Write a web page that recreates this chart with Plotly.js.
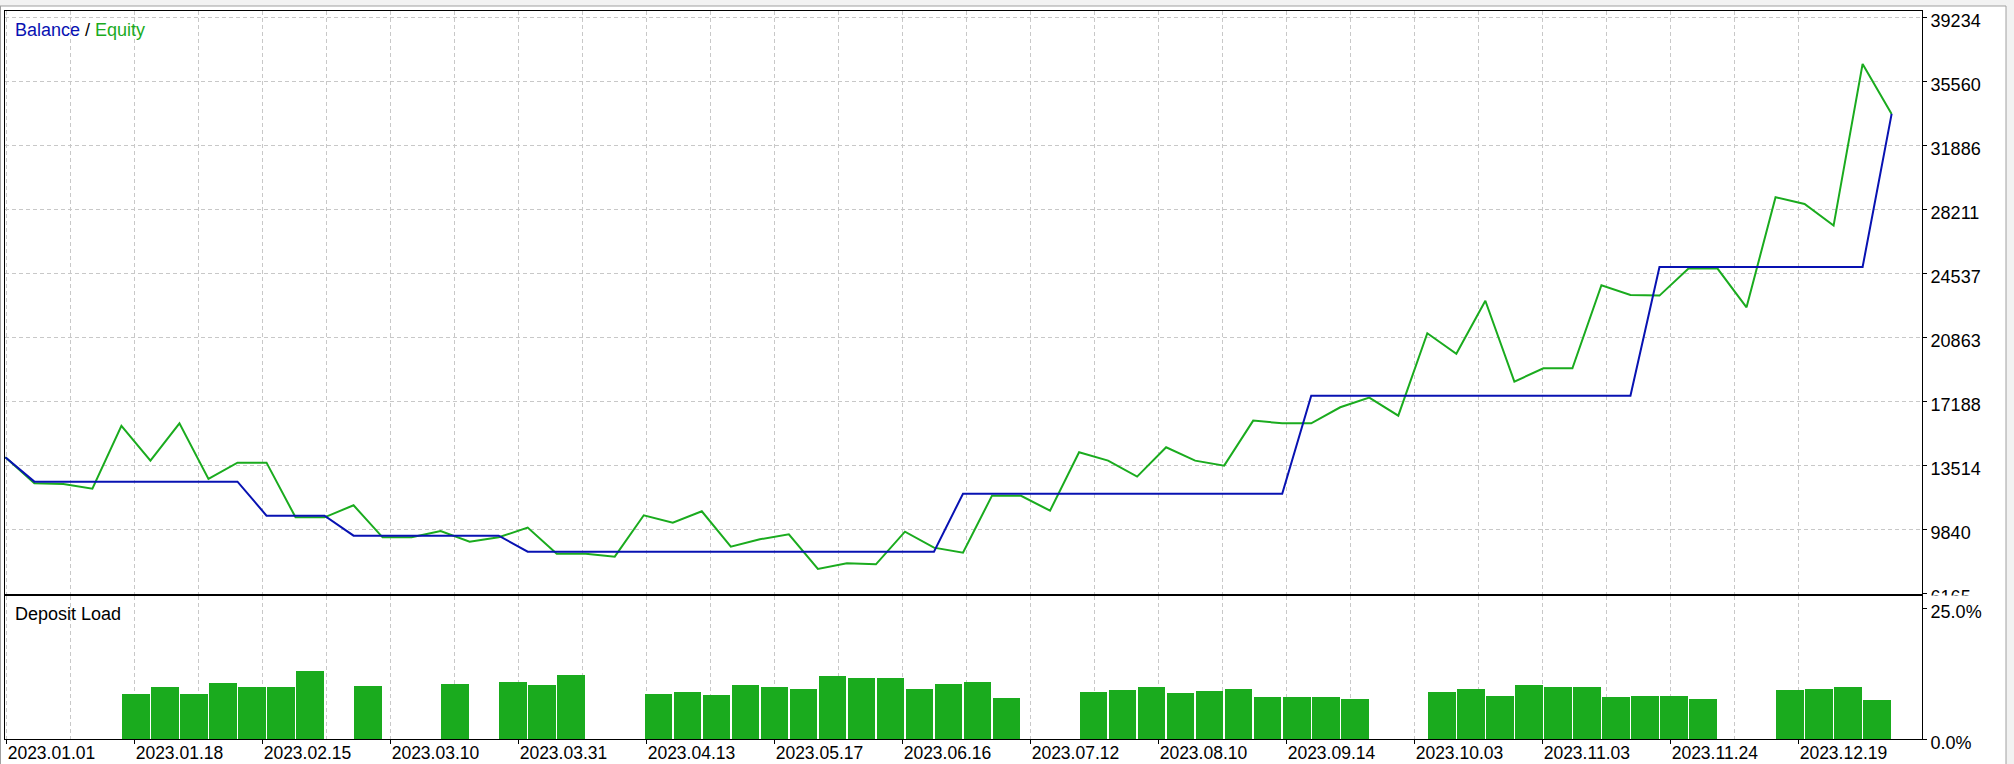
<!DOCTYPE html>
<html>
<head>
<meta charset="utf-8">
<script src="https://cdn.plot.ly/plotly-3.0.1.min.js"></script>
<style>html,body{margin:0;padding:0;background:#fff;}#chart{width:2014px;height:764px;}</style>
</head>
<body>
<div id="chart"></div>
<script>
// ---- data ----
const balance = [13973,
  12576,12576,12576,12576,12576,12576,12576,12576,
  10624,10624,10624,
  9475,9475,9475,9475,9475,9475,
  8557,8557,8557,8557,8557,8557,8557,8557,8557,8557,8557,8557,8557,8557,8557,
  11880,11880,11880,11880,11880,11880,11880,11880,11880,11880,11880,11880,
  17513,17513,17513,17513,17513,17513,17513,17513,17513,17513,17513,17513,
  24901,24901,24901,24901,24901,24901,24901,24901,
  33687];
const equity = [13973,12480,12440,12174,15773,13782,15926,12729,13667,13667,
  10528,10528,11217,9380,9380,9743,9131,9380,9935,8442,
  8440,8270,10643,10222,10873,8844,9265,9552,7561,7887,
  7830,9705,8787,8499,11772,11760,10908,14260,13782,12863,
  14548,13782,13495,16079,15926,15926,16844,17399,16366,21093,
  19920,22960,18318,19083,19083,23849,23294,23256,24806,24806,
  22586,28902,28519,27275,36558,33687];
const depositLoad = [null,null,null,null,8.65,9.98,8.65,10.74,9.98,9.98,
  13.03,null,10.17,null,null,10.55,null,10.94,10.36,12.27,
  null,null,8.65,9.03,8.45,10.36,9.98,9.60,12.08,11.70,
  11.70,9.60,10.55,10.94,7.88,null,null,9.03,9.41,9.98,
  8.84,9.22,9.60,8.07,8.07,8.07,7.69,null,null,9.03,
  9.60,8.26,10.36,9.98,9.98,8.07,8.26,8.26,7.69,null,
  null,9.41,9.60,9.98,7.50];
const dateLabels = ['2023.01.01','2023.01.18','2023.02.15','2023.03.10','2023.03.31',
  '2023.04.13','2023.05.17','2023.06.16','2023.07.12','2023.08.10','2023.09.14',
  '2023.10.03','2023.11.03','2023.11.24','2023.12.19'];
const priceTicks = [6165,9840,13514,17188,20863,24537,28211,31886,35560,39234];
const loadTicks = [0,25];
const loadTickText = ['0.0%','25.0%'];

// ---- geometry (pixels) ----
const W = 2014, H = 764;
const X0PX = 5.33, STEP = 29.02;          // pixel position of deal 0 and per-deal step
const LEFT = 5, RIGHT = 1922;
const TOP1 = 11, BOT1 = 594, TOP2 = 596, BOT2 = 739.3;
const toIdx = px => (px - X0PX) / STEP;
const fx = px => px / W, fy = py => 1 - py / H;

const GREEN = '#1aab1e', BLUE = '#0812b2', GRID = '#c8c8c8';
const FONT = {family: 'Liberation Sans, Arial, sans-serif', size: 18, color: '#000'};
const DATEFONT = {family: 'Liberation Sans, Arial, sans-serif', size: 17.5, color: '#000'};

// grid positions: every 64px starting at 6.67
const gridAll = [], gridMajor = [], gridMinor = [];
for (let k = 0; k <= 28; k++) {
  const v = toIdx(6.67 + 64 * k);
  gridAll.push(v);
  if (k % 2 === 0) gridMajor.push(v); else gridMinor.push(v);
}

const idx = equity.map((_, i) => i);
const slotX = depositLoad.map((_, i) => i + 0.5);

// price axis range from tick pixel spacing (64px per tick step)
const tickStep = (priceTicks[priceTicks.length - 1] - priceTicks[0]) / (priceTicks.length - 1);
const perPx = tickStep / 64;
const yr0 = priceTicks[0] - (BOT1 - 593.3) * perPx;
const yr1 = priceTicks[priceTicks.length - 1] + (17.3 - TOP1) * perPx;
const lr1 = 25 * (BOT2 - TOP2) / (BOT2 - 608.3);

const traces = [
  {x: idx, y: equity, type: 'scatter', mode: 'lines', line: {color: GREEN, width: 2}, xaxis: 'x', yaxis: 'y', hoverinfo: 'skip'},
  {x: idx, y: balance, type: 'scatter', mode: 'lines', line: {color: BLUE, width: 2}, xaxis: 'x', yaxis: 'y', hoverinfo: 'skip'},
  {x: slotX, y: depositLoad, type: 'bar', width: 0.95, marker: {color: GREEN, line: {width: 0}}, xaxis: 'x2', yaxis: 'y2', hoverinfo: 'skip'}
];

const xr = [toIdx(LEFT), toIdx(RIGHT)];
const commonX = {
  range: xr, fixedrange: true, showgrid: true, gridcolor: GRID, griddash: '4px,3px', gridwidth: 1,
  showline: true, mirror: true, linecolor: '#000', linewidth: 1, zeroline: false
};

const layout = {
  width: W, height: H, margin: {l: 0, r: 0, t: 0, b: 0, pad: 0},
  paper_bgcolor: '#fff', plot_bgcolor: '#fff', showlegend: false, bargap: 0,
  font: FONT,
  xaxis: Object.assign({}, commonX, {
    domain: [fx(LEFT), fx(RIGHT)], anchor: 'y', tickmode: 'array', tickvals: gridAll,
    showticklabels: false, ticks: ''
  }),
  yaxis: {
    domain: [fy(BOT1), fy(TOP1)], anchor: 'x', range: [yr0, yr1], side: 'right', fixedrange: true,
    tickmode: 'array', tickvals: priceTicks, ticktext: priceTicks.map(String),
    ticks: 'outside', ticklen: 4, tickcolor: '#000', tickfont: FONT, ticklabelshift: 3,
    showgrid: true, gridcolor: GRID, griddash: '4px,3px', gridwidth: 1,
    showline: true, mirror: true, linecolor: '#000', linewidth: 1, zeroline: false
  },
  xaxis2: Object.assign({}, commonX, {
    domain: [fx(LEFT), fx(RIGHT)], anchor: 'y2', tickmode: 'array', tickvals: gridMajor, ticktext: dateLabels,
    ticks: 'outside', ticklen: 4, tickcolor: '#000', tickfont: DATEFONT, ticklabelposition: 'outside right',
    ticklabelstandoff: -2,
    minor: {tickmode: 'array', tickvals: gridMinor, showgrid: true, gridcolor: GRID, griddash: '4px,3px', gridwidth: 1, ticks: ''}
  }),
  yaxis2: {
    domain: [fy(BOT2), fy(TOP2)], anchor: 'x2', range: [0, lr1], side: 'right', fixedrange: true,
    tickmode: 'array', tickvals: loadTicks, ticktext: loadTickText,
    ticks: 'outside', ticklen: 4, tickcolor: '#000', tickfont: FONT, ticklabelshift: 3,
    showgrid: false, showline: true, mirror: true, linecolor: '#000', linewidth: 1, zeroline: false
  },
  shapes: [
    {type: 'rect', xref: 'paper', yref: 'paper', x0: 0, x1: 1, y0: fy(6), y1: 1, fillcolor: '#f2f2f2', line: {width: 0}, layer: 'below'},
    {type: 'rect', xref: 'paper', yref: 'paper', x0: fx(2006), x1: 1, y0: 0, y1: 1, fillcolor: '#f2f2f2', line: {width: 0}, layer: 'below'},
    {type: 'line', xref: 'paper', yref: 'paper', x0: 0, x1: fx(2006), y0: fy(6), y1: fy(6), line: {color: '#a0a0a0', width: 1}},
    {type: 'line', xref: 'paper', yref: 'paper', x0: fx(2006), x1: fx(2006), y0: 0, y1: fy(6), line: {color: '#a0a0a0', width: 1}},
    {type: 'line', xref: 'paper', yref: 'paper', x0: fx(0.5), x1: fx(0.5), y0: 0, y1: fy(6), line: {color: '#a0a0a0', width: 1}},
    {type: 'rect', xref: 'paper', yref: 'paper', x0: fx(1924), x1: fx(2005), y0: fy(603.5), y1: fy(595.5), fillcolor: '#fff', line: {width: 0}, layer: 'above'}
  ],
  annotations: [
    {xref: 'paper', yref: 'paper', x: fx(13), y: fy(29.5), xanchor: 'left', yanchor: 'middle', showarrow: false,
     font: FONT, text: '<span style="color:' + BLUE + '">Balance</span> / <span style="color:' + GREEN + '">Equity</span>'},
    {xref: 'paper', yref: 'paper', x: fx(13), y: fy(614), xanchor: 'left', yanchor: 'middle', showarrow: false,
     font: FONT, text: 'Deposit Load'}
  ]
};

Plotly.newPlot('chart', traces, layout, {staticPlot: true, displayModeBar: false});
</script>
</body>
</html>
